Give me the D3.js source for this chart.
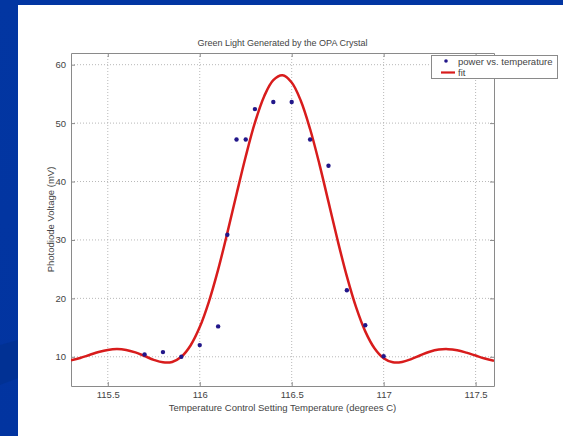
<!DOCTYPE html>
<html>
<head>
<meta charset="utf-8">
<script src="https://cdn.jsdelivr.net/npm/d3@7"></script>
<style>
html,body{margin:0;padding:0;background:#0234a0;}
svg{display:block;}
text{font-family:"Liberation Sans",Arial,sans-serif;fill:#444;}
</style>
</head>
<body>
<svg id="chart" width="563" height="436"></svg>
<script>
// ---- data ----
const titleText = "Green Light Generated by the OPA Crystal";
const xLabel = "Temperature Control Setting Temperature (degrees C)";
const yLabel = "Photodiode Voltage (mV)";
const xTicks = [115.5, 116, 116.5, 117, 117.5];
const yTicks = [10, 20, 30, 40, 50, 60];
const seriesNames = ["power vs. temperature", "fit"];

// measured points
const tempPoints = [115.7, 115.8, 115.9, 116.0, 116.1, 116.15, 116.2, 116.25, 116.3, 116.4, 116.5, 116.6, 116.7, 116.8, 116.9, 117.0];
const voltPoints = [10.4, 10.8, 10.0, 12.0, 15.2, 30.9, 47.2, 47.2, 52.4, 53.6, 53.6, 47.2, 42.7, 21.4, 15.4, 10.1];

// fit curve
const fitTemp = [115.30,115.35,115.40,115.45,115.50,115.55,115.60,115.65,115.70,115.75,115.80,115.85,115.90,115.95,116.00,116.05,116.10,116.15,116.20,116.25,116.30,116.35,116.40,116.45,116.50,116.55,116.60,116.65,116.70,116.75,116.80,116.85,116.90,116.95,117.00,117.05,117.10,117.15,117.20,117.25,117.30,117.35,117.40,117.45,117.50,117.55,117.60];
const fitVolt = [9.38,9.80,10.31,10.81,11.18,11.32,11.18,10.75,10.13,9.48,9.05,9.12,10.00,11.94,15.08,19.46,24.92,31.21,37.83,44.29,50.08,54.57,57.36,58.19,56.96,53.80,48.99,43.07,36.51,29.90,23.76,18.49,14.35,11.46,9.75,9.05,9.10,9.60,10.26,10.86,11.23,11.31,11.12,10.71,10.21,9.71,9.31];

// ---- drawing ----
const svg = d3.select("#chart");
const W = 563, H = 436;

// slide background
const defs = svg.append("defs");
const grad = defs.append("linearGradient").attr("id","bg").attr("x1","0").attr("y1","0").attr("x2","0").attr("y2","1");
grad.append("stop").attr("offset","0").attr("stop-color","#0236a2");
grad.append("stop").attr("offset","1").attr("stop-color","#0234a0");
svg.append("rect").attr("width",W).attr("height",H).attr("fill","url(#bg)");
svg.append("path").attr("d","M0,345 L18,340 L18,378 L0,385 Z").attr("fill","#02308f").attr("opacity",0.7);
svg.append("rect").attr("x",18).attr("y",5).attr("width",W-18).attr("height",H-5).attr("fill","#ffffff");

const m = {left:71, top:53, right:494, bottom:386};
const x = d3.scaleLinear().domain([115.3, 117.6]).range([m.left, m.right]);
const y = d3.scaleLinear().domain([5, 62]).range([m.bottom, m.top]);

// grid
const grid = svg.append("g");
grid.selectAll("line.gx").data(xTicks).enter().append("line")
  .attr("x1",d=>x(d)).attr("x2",d=>x(d)).attr("y1",m.top).attr("y2",m.bottom)
  .attr("stroke","#b8b8b8").attr("stroke-width",1).attr("stroke-dasharray","1,2");
grid.selectAll("line.gy").data(yTicks).enter().append("line")
  .attr("y1",d=>y(d)).attr("y2",d=>y(d)).attr("x1",m.left).attr("x2",m.right)
  .attr("stroke","#b8b8b8").attr("stroke-width",1).attr("stroke-dasharray","1,2");

// axes
const axisColor = "#8a8a8a";
const xAxisB = svg.append("g").attr("transform",`translate(0,${m.bottom})`)
  .call(d3.axisBottom(x).tickValues(xTicks).tickSizeInner(-4).tickSizeOuter(0).tickPadding(5).tickFormat(d=>d3.format("")(d)));
const xAxisT = svg.append("g").attr("transform",`translate(0,${m.top})`)
  .call(d3.axisTop(x).tickValues(xTicks).tickSizeInner(-4).tickSizeOuter(0).tickFormat(""));
const yAxisL = svg.append("g").attr("transform",`translate(${m.left},0)`)
  .call(d3.axisLeft(y).tickValues(yTicks).tickSizeInner(-4).tickSizeOuter(0).tickPadding(5));
const yAxisR = svg.append("g").attr("transform",`translate(${m.right},0)`)
  .call(d3.axisRight(y).tickValues(yTicks).tickSizeInner(-4).tickSizeOuter(0).tickFormat(""));
[xAxisB,xAxisT,yAxisL,yAxisR].forEach(g=>{
  g.select(".domain").attr("stroke",axisColor);
  g.selectAll(".tick line").attr("stroke",axisColor);
  g.selectAll(".tick text").attr("fill","#555").style("font-size","9.5px").style("font-family","'Liberation Sans',Arial,sans-serif");
});

// fit line
const fitData = fitTemp.map((t,i)=>({t, v:fitVolt[i]}));
const clip = defs.append("clipPath").attr("id","plotclip");
clip.append("rect").attr("x",m.left).attr("y",m.top).attr("width",m.right-m.left).attr("height",m.bottom-m.top);
svg.append("path").datum(fitData)
  .attr("clip-path","url(#plotclip)")
  .attr("fill","none").attr("stroke","#d81c1c").attr("stroke-width",2.5)
  .attr("d", d3.line().x(d=>x(d.t)).y(d=>y(d.v)).curve(d3.curveCatmullRom));

// points
const ptData = tempPoints.map((t,i)=>({t, v:voltPoints[i]}));
svg.selectAll("circle.pt").data(ptData).enter().append("circle")
  .attr("cx",d=>x(d.t)).attr("cy",d=>y(d.v)).attr("r",2.2).attr("fill","#22178a");

// title & labels
svg.append("text").attr("x",(m.left+m.right)/2).attr("y",46).attr("text-anchor","middle")
  .style("font-size","9px").text(titleText);
svg.append("text").attr("x",(m.left+m.right)/2).attr("y",410.5).attr("text-anchor","middle")
  .style("font-size","9.5px").text(xLabel);
svg.append("text").attr("transform",`translate(54,${(m.top+m.bottom)/2}) rotate(-90)`).attr("text-anchor","middle")
  .style("font-size","9.5px").text(yLabel);

// legend
const lg = svg.append("g");
lg.append("rect").attr("x",431.5).attr("y",55.5).attr("width",126).attr("height",23)
  .attr("fill","#fff").attr("stroke","#8a8a8a").attr("stroke-width",1);
lg.append("circle").attr("cx",446).attr("cy",61).attr("r",1.8).attr("fill","#22178a");
lg.append("line").attr("x1",441).attr("x2",455).attr("y1",72.5).attr("y2",72.5).attr("stroke","#d81c1c").attr("stroke-width",2.2);
lg.append("text").attr("x",458).attr("y",64.5).style("font-size","9.5px").text(seriesNames[0]);
lg.append("text").attr("x",458).attr("y",75.5).style("font-size","9.5px").text(seriesNames[1]);
</script>
</body>
</html>
